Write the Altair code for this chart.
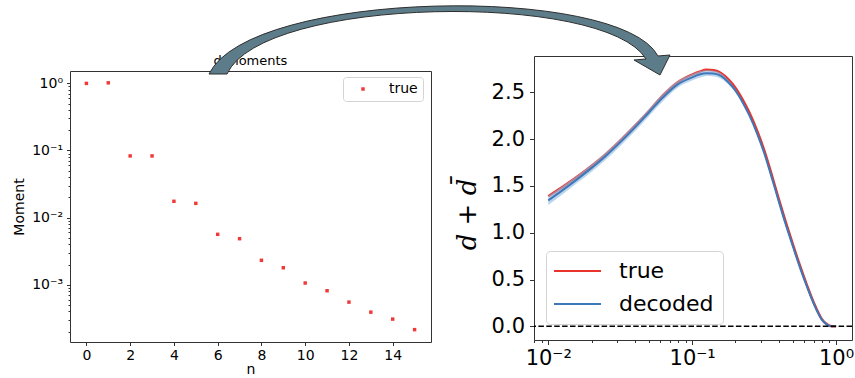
import altair as alt
import pandas as pd

# ---------------- data: left panel ----------------
n_values = list(range(16))
moment_values = [1.0, 1.02, 0.083, 0.083, 0.0175, 0.0163, 0.00563, 0.00485,
                 0.00231, 0.00179, 0.00106, 0.000813, 0.00055, 0.00039, 0.000307, 0.000214]
left_series = ["true"] * 16

left_x_ticks = [0, 2, 4, 6, 8, 10, 12, 14]
left_y_major = [1.0, 0.1, 0.01, 0.001]
left_y_labels = ["10⁰", "10⁻¹", "10⁻²", "10⁻³"]
left_y_minor = [m * d for d in [0.0001, 0.001, 0.01, 0.1] for m in range(2, 10)]

# ---------------- data: right panel ----------------
r_values = [0.01, 0.01259, 0.01585, 0.01995, 0.02512, 0.03162, 0.03981, 0.05012, 0.0631,
            0.07943, 0.1, 0.1122, 0.1259, 0.1413, 0.1585, 0.1778, 0.1995, 0.2239, 0.2512,
            0.2818, 0.3162, 0.3548, 0.3981, 0.4467, 0.5012, 0.5623, 0.631, 0.7079, 0.7943,
            0.8511, 0.8913, 0.9333, 1.0]
true_curve = [1.39, 1.49, 1.597, 1.713, 1.839, 1.983, 2.138, 2.30, 2.472,
              2.608, 2.689, 2.72, 2.742, 2.735, 2.705, 2.64, 2.55, 2.425, 2.275,
              2.095, 1.885, 1.635, 1.37, 1.115, 0.875, 0.645, 0.43, 0.235, 0.08,
              0.03, 0.01, 0.002, 0.0]
decoded_curve = [1.345, 1.455, 1.57, 1.69, 1.82, 1.965, 2.12, 2.285, 2.45,
                 2.585, 2.66, 2.69, 2.705, 2.70, 2.675, 2.61, 2.52, 2.395, 2.245,
                 2.065, 1.855, 1.605, 1.345, 1.09, 0.855, 0.625, 0.415, 0.225, 0.075,
                 0.027, 0.008, 0.001, 0.0]
band_low = [1.295, 1.41, 1.53, 1.65, 1.78, 1.925, 2.08, 2.245, 2.41,
            2.55, 2.625, 2.655, 2.675, 2.67, 2.645, 2.585, 2.50, 2.38, 2.233,
            2.055, 1.845, 1.595, 1.335, 1.08, 0.845, 0.615, 0.405, 0.215, 0.067,
            0.022, 0.004, -0.002, -0.003]
band_high = [1.395, 1.50, 1.61, 1.73, 1.86, 2.005, 2.16, 2.325, 2.49,
             2.62, 2.695, 2.725, 2.735, 2.73, 2.705, 2.635, 2.54, 2.41, 2.257,
             2.075, 1.865, 1.615, 1.355, 1.10, 0.865, 0.635, 0.425, 0.235, 0.083,
             0.032, 0.012, 0.004, 0.003]

right_x_major = [0.01, 0.1, 1.0]
right_x_labels = ["10⁻²", "10⁻¹", "10⁰"]
right_x_minor = [0.008, 0.009] + [m * d for d in [0.01, 0.1] for m in range(2, 10)]
right_y_ticks = [0.0, 0.5, 1.0, 1.5, 2.0, 2.5]
series_names = ["true", "decoded"]
series_colors = ["#e8342c", "#3d78b9"]

# ---------------- helpers ----------------
def label_expr(vals, labs):
    expr = "''"
    for v, l in reversed(list(zip(vals, labs))):
        expr = f"datum.value == {v} ? '{l}' : {expr}"
    return expr


def tick_size(major, big, small):
    return {"condition": {"test": f"indexof({list(major)}, datum.value) >= 0", "value": big},
            "value": small}


FRAME = "#333333"

# ---------------- left panel ----------------
L_W, L_H, L_TOP = 361, 286, 15
left_df = pd.DataFrame({"n": n_values, "moment": moment_values, "series": left_series})

lx_scale = alt.Scale(domain=[-0.75, 15.75], nice=False, zero=False)
ly_scale = alt.Scale(type="log", domain=[1.4e-4, 1.53], nice=False, range=[L_H, L_TOP])

left_pts = alt.Chart(left_df).mark_square(size=12, opacity=1).encode(
    x=alt.X("n:Q", scale=lx_scale,
            axis=alt.Axis(values=left_x_ticks, title="n", labelFontSize=14, titleFontSize=14,
                          tickSize=3.5, labelPadding=3, titlePadding=0, domainColor=FRAME,
                          labelFlush=False, labelOverlap=False)),
    y=alt.Y("moment:Q", scale=ly_scale,
            axis=alt.Axis(values=left_y_major + left_y_minor,
                          labelExpr=label_expr(left_y_major, left_y_labels),
                          tickSize=tick_size(left_y_major, 3.5, 2),
                          title="Moment", labelFontSize=14, titleFontSize=14,
                          labelPadding=4, titlePadding=5, domainColor=FRAME,
                          labelFlush=False, labelOverlap=False)),
    color=alt.Color("series:N", scale=alt.Scale(domain=["true"], range=["#f03a3a"]),
                    legend=alt.Legend(orient="none", legendX=273, legendY=21, title=None,
                                      strokeColor="#d4d4d4", fillColor="white", cornerRadius=3,
                                      padding=5, symbolType="square", symbolSize=12,
                                      symbolOffset=8, labelOffset=19, labelFontSize=14)),
)

left_frame = alt.Chart(left_df).mark_point(opacity=0).encode(
    x=alt.X("n:Q", axis=alt.Axis(orient="top", labels=False, ticks=False, title=None,
                                 offset=-L_TOP, domainColor=FRAME)),
    y=alt.Y("moment:Q", axis=alt.Axis(orient="right", labels=False, ticks=False, title=None,
                                      domainColor=FRAME)),
)

left = alt.layer(left_pts, left_frame).resolve_axis(x="independent", y="independent").properties(
    width=L_W, height=L_H,
    title=alt.TitleParams("d moments", fontSize=13, fontWeight="normal", anchor="middle",
                          frame="group", offset=0, dy=21.5, baseline="alphabetic"),
    view=alt.ViewBackground(stroke="transparent"),
)

# ---------------- right panel ----------------
R_W, R_H = 318, 284
curve_df = pd.DataFrame({
    "r": r_values * 2,
    "val": true_curve + decoded_curve,
    "series": [series_names[0]] * len(r_values) + [series_names[1]] * len(r_values),
})
band_df = pd.DataFrame({"r": r_values, "lo": band_low, "hi": band_high})

rx_scale = alt.Scale(type="log", domain=[0.00796, 1.291], nice=False)
ry_scale = alt.Scale(domain=[-0.146, 2.888], nice=False, zero=False)
color_scale = alt.Scale(domain=series_names, range=series_colors)

rx = alt.X("r:Q", scale=rx_scale,
           axis=alt.Axis(values=right_x_major + right_x_minor,
                         labelExpr=label_expr(right_x_major, right_x_labels),
                         tickSize=tick_size(right_x_major, 4.5, 2.5),
                         title=None, labelFontSize=21, labelPadding=3, domain=False,
                         labelFlush=False, labelOverlap=False))
ry_axis = alt.Axis(values=right_y_ticks, format=".1f", labelFontSize=21, tickSize=4.5,
                   labelPadding=5, domain=False, title="d + d\u0304",
                   titleFont="DejaVu Serif", titleFontStyle="italic", titleFontSize=26,
                   titleFontWeight="normal", titleX=-67, titleY=158, titleAngle=270,
                   titleAlign="center", titleBaseline="middle", labelFlush=False)

legend_r = alt.Legend(orient="none", legendX=12, legendY=195, title=None,
                      strokeColor="#d4d4d4", fillColor="rgba(255,255,255,0.8)", cornerRadius=4,
                      padding=9, symbolType="M-2.35,0H2.35", symbolSize=400,
                      symbolStrokeWidth=2, labelFontSize=22, rowPadding=11,
                      symbolOffset=11.5, labelOffset=30.5)

true_line = alt.Chart(curve_df).transform_filter(alt.datum.series == "true").mark_line(
    strokeWidth=2.5, interpolate="monotone").encode(
    x=rx, y=alt.Y("val:Q", scale=ry_scale, axis=ry_axis),
    color=alt.Color("series:N", scale=color_scale, legend=legend_r, sort=series_names),
)
band = alt.Chart(band_df).mark_area(color="#8fbbe3", opacity=0.6, interpolate="monotone").encode(
    x="r:Q", y="lo:Q", y2="hi:Q")
dec_line = alt.Chart(curve_df).transform_filter(alt.datum.series == "decoded").mark_line(
    strokeWidth=2, interpolate="monotone").encode(
    x="r:Q", y="val:Q",
    color=alt.Color("series:N", scale=color_scale, legend=legend_r, sort=series_names),
)
zero_rule = alt.Chart(pd.DataFrame({"z": [0.0]})).mark_rule(
    color="black", strokeWidth=1.5, strokeDash=[5.5, 2.4]).encode(y="z:Q")

# decorative curved arrow (pixel geometry, not data)
A_CX, A_CY, A_HALF = 435, 42, 230
arrow_px = ["M", 209, 75, "C", 250, -10, 620, -15, 658, 57, "L", 670, 56, "L", 660, 76,
            "L", 634, 61, "L", 646, 60, "C", 605, -8, 262, -3, 227, 75, "Z"]
parts, nums = [], []
for tok in arrow_px:
    if isinstance(tok, str):
        parts.append(tok)
    else:
        nums.append(tok)
        if len(nums) == 2:
            parts.append(f"{(nums[0]-A_CX)/A_HALF:.4f},{(nums[1]-A_CY)/A_HALF:.4f}")
            nums = []
arrow_path = " ".join(parts)
arrow = alt.Chart(pd.DataFrame({"a": [0]})).mark_point(
    shape=arrow_path, size=(2 * A_HALF) ** 2, filled=True, fill="#5d7c89", stroke="#2e2e2e",
    strokeWidth=1, opacity=1).encode(
    x=alt.value(A_CX - 534), y=alt.value(A_CY - 57))

right = alt.layer(true_line, band, dec_line, zero_rule, arrow).properties(
    width=R_W, height=R_H,
    view=alt.ViewBackground(stroke=FRAME, strokeWidth=1),
)

chart = alt.hconcat(left, right, spacing=103, bounds="flush").resolve_scale(
    color="independent").properties(
    padding={"left": 12, "top": 3, "right": 0, "bottom": 0},
).configure(font="DejaVu Sans").configure_axis(
    grid=False, tickColor=FRAME, labelColor="black", titleColor="black",
    titleFontWeight="normal",
).configure_legend(labelColor="black")

chart.save("out.html", embed_options={"renderer": "svg", "actions": False})
